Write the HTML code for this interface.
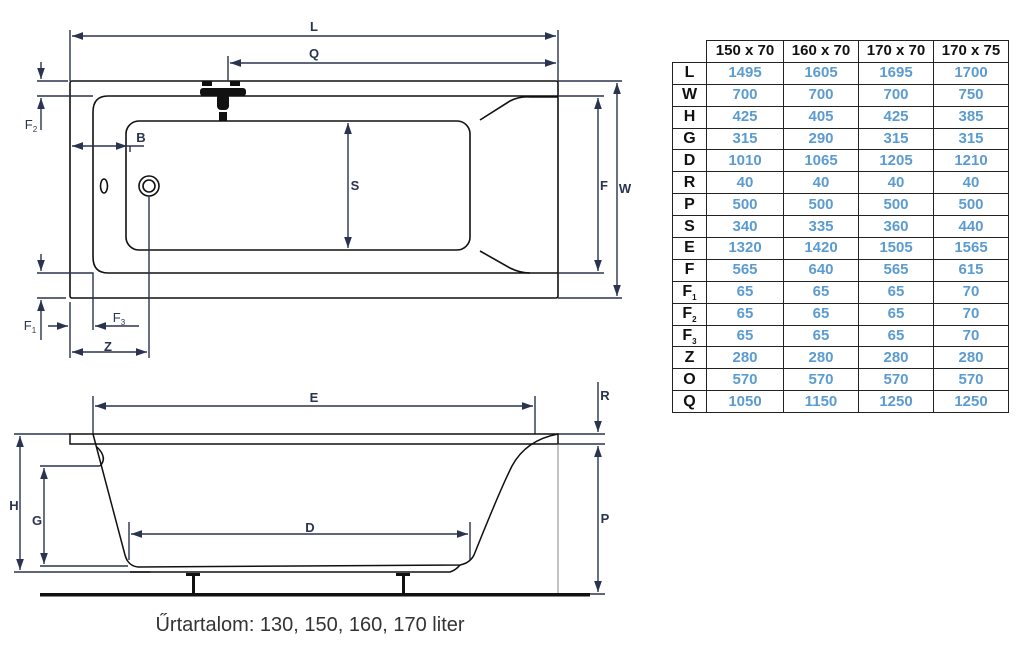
<!DOCTYPE html>
<html><head><meta charset="utf-8"><style>
body{margin:0;background:#fff;width:1024px;height:647px;overflow:hidden;font-family:"Liberation Sans",sans-serif}
svg{position:absolute;left:0;top:0}
table{position:absolute;left:672px;top:40px;border-collapse:collapse;table-layout:fixed;font-family:"Liberation Sans",sans-serif;font-weight:bold}
td{border:1.5px solid #222;height:20.4px;padding:0;text-align:center;font-size:15px;color:#5b9bd0;line-height:18px;overflow:hidden}
tr{height:21.9px}
td.h{color:#111;font-size:15px}
td.k{color:#111;width:33px;font-size:16px}
.s{font-size:8px;position:relative;top:4px;line-height:0}
</style></head><body>
<svg width="1024" height="647" viewBox="0 0 1024 647">
<defs>
<marker id="a" viewBox="0 0 10 10" refX="10" refY="5" markerWidth="8" markerHeight="8" orient="auto-start-reverse"><path d="M0,1.5 L10,5 L0,8.5z" fill="#2a3350"/></marker>
</defs>
<g fill="none" stroke="#111" stroke-width="1.6">
<rect x="70" y="81" width="488" height="217" rx="2"/>
<path d="M558,96 H108 Q93,96 93,112 V257 Q93,273 108,273 H558"/>
<rect x="126" y="121" width="344" height="129" rx="13"/>
<path d="M480,120 L510,101 Q520,96 530,97 H558 M480,251 L510,268 Q520,273 530,273"/>
<ellipse cx="104" cy="186" rx="3.5" ry="7"/>
<circle cx="149" cy="186" r="10"/><circle cx="149" cy="186" r="6"/>
</g>
<g fill="#111"><rect x="202" y="81" width="10" height="5"/><rect x="230" y="81" width="10" height="5"/><rect x="200" y="88" width="46" height="8" rx="3"/><rect x="217" y="94" width="12" height="16" rx="4"/><rect x="219" y="112" width="8" height="9"/></g>
<g stroke="#2a3350" stroke-width="1.4" fill="none">
<path d="M70,30 V81 M558,30 V81 M228,56 V81"/>
<line x1="72" y1="36" x2="556" y2="36" marker-start="url(#a)" marker-end="url(#a)"/>
<line x1="230" y1="63" x2="556" y2="63" marker-start="url(#a)" marker-end="url(#a)"/>
<path d="M558,81 H622 M558,96 H604 M558,273 H604 M558,298 H622"/>
<line x1="598" y1="98" x2="598" y2="271" marker-start="url(#a)" marker-end="url(#a)"/>
<line x1="617" y1="83" x2="617" y2="296" marker-start="url(#a)" marker-end="url(#a)"/>
<path d="M37,81 H68 M37,96 H93"/>
<line x1="41" y1="62" x2="41" y2="79" marker-end="url(#a)"/>
<line x1="41" y1="130" x2="41" y2="98" marker-end="url(#a)"/>
<line x1="72" y1="146" x2="127" y2="146" marker-start="url(#a)" marker-end="url(#a)"/>
<path d="M127,146 H144 M130,146 V152"/>
<line x1="348" y1="123" x2="348" y2="248" marker-start="url(#a)" marker-end="url(#a)"/>
<path d="M37,273 H93 V330 M37,298 H66 M70,302 V358 M149,196 V358"/>
<line x1="41" y1="254" x2="41" y2="271" marker-end="url(#a)"/>
<line x1="41" y1="340" x2="41" y2="300" marker-end="url(#a)"/>
<line x1="48" y1="326" x2="68" y2="326" marker-end="url(#a)"/>
<line x1="139" y1="326" x2="95" y2="326" marker-end="url(#a)"/>
<line x1="72" y1="352" x2="147" y2="352" marker-start="url(#a)" marker-end="url(#a)"/>
<path d="M93,396 V434 M535,396 V434"/>
<line x1="95" y1="406" x2="533" y2="406" marker-start="url(#a)" marker-end="url(#a)"/>
<path d="M14,434 H70 M14,572 H150 M40,466 H100"/>
<line x1="20" y1="436" x2="20" y2="570" marker-start="url(#a)" marker-end="url(#a)"/>
<line x1="44" y1="468" x2="44" y2="564" marker-start="url(#a)" marker-end="url(#a)"/>
<line x1="40" y1="566" x2="128" y2="566"/>
<path d="M129,522 V560 M470,522 V560"/>
<line x1="131" y1="534" x2="468" y2="534" marker-start="url(#a)" marker-end="url(#a)"/>
<path d="M558,434 H605 M558,444 H605 M590,594 H605"/>
<line x1="598" y1="382" x2="598" y2="432" marker-end="url(#a)"/>
<line x1="598" y1="446" x2="598" y2="592" marker-start="url(#a)" marker-end="url(#a)"/>
</g>
<g fill="none" stroke="#111" stroke-width="1.5">
<path d="M70,434 H558 V444 H70 Z"/>
<path d="M93,434 L125,555 Q128,566 138,567 L460,565 Q470,563 474,555 Q500,490 512,466 Q526,440 558,434"/>
<path d="M97,447 Q108,458 100,466"/>
<path d="M130,572 H450 Q456,570 460,565"/>
<line x1="558" y1="444" x2="558" y2="594" stroke="#888" stroke-width="1"/>
</g>
<g fill="#111"><rect x="186" y="573" width="14" height="3"/><rect x="192" y="576" width="3" height="18"/><rect x="396" y="573" width="14" height="3"/><rect x="402" y="576" width="3" height="18"/></g>
<rect x="40" y="593" width="550" height="3.5" fill="#111"/>
<g font-family="Liberation Sans,sans-serif" font-weight="bold" font-size="13" fill="#2a3350" text-anchor="middle">
<text x="314" y="31">L</text><text x="314" y="58">Q</text><text x="604" y="190">F</text><text x="625" y="193">W</text>
<text x="355" y="190">S</text><text x="141" y="142">B</text><text x="314" y="402">E</text><text x="310" y="532">D</text>
<text x="605" y="400">R</text><text x="605" y="523">P</text><text x="14" y="510">H</text><text x="37" y="525">G</text>
<text x="108" y="351">Z</text>
<text x="31" y="129" font-weight="normal">F<tspan font-size="8" dy="3">2</tspan></text>
<text x="30" y="330" font-weight="normal">F<tspan font-size="8" dy="3">1</tspan></text>
<text x="119" y="322" font-weight="normal">F<tspan font-size="8" dy="3">3</tspan></text>
</g>
<text x="310" y="631" font-family="Liberation Sans,sans-serif" font-size="20" fill="#333" text-anchor="middle">Űrtartalom: 130, 150, 160, 170 liter</text>
</svg>
<table>
<tr><td style="border:none;border-right:1.5px solid #222;border-bottom:1.5px solid #222;width:33px"></td><td class="h" style="width:76px">150 x 70</td><td class="h" style="width:74px">160 x 70</td><td class="h" style="width:74px">170 x 70</td><td class="h" style="width:74px">170 x 75</td></tr>
<tr><td class="k">L</td><td>1495</td><td>1605</td><td>1695</td><td>1700</td></tr>
<tr><td class="k">W</td><td>700</td><td>700</td><td>700</td><td>750</td></tr>
<tr><td class="k">H</td><td>425</td><td>405</td><td>425</td><td>385</td></tr>
<tr><td class="k">G</td><td>315</td><td>290</td><td>315</td><td>315</td></tr>
<tr><td class="k">D</td><td>1010</td><td>1065</td><td>1205</td><td>1210</td></tr>
<tr><td class="k">R</td><td>40</td><td>40</td><td>40</td><td>40</td></tr>
<tr><td class="k">P</td><td>500</td><td>500</td><td>500</td><td>500</td></tr>
<tr><td class="k">S</td><td>340</td><td>335</td><td>360</td><td>440</td></tr>
<tr><td class="k">E</td><td>1320</td><td>1420</td><td>1505</td><td>1565</td></tr>
<tr><td class="k">F</td><td>565</td><td>640</td><td>565</td><td>615</td></tr>
<tr><td class="k">F<span class="s">1</span></td><td>65</td><td>65</td><td>65</td><td>70</td></tr>
<tr><td class="k">F<span class="s">2</span></td><td>65</td><td>65</td><td>65</td><td>70</td></tr>
<tr><td class="k">F<span class="s">3</span></td><td>65</td><td>65</td><td>65</td><td>70</td></tr>
<tr><td class="k">Z</td><td>280</td><td>280</td><td>280</td><td>280</td></tr>
<tr><td class="k">O</td><td>570</td><td>570</td><td>570</td><td>570</td></tr>
<tr><td class="k">Q</td><td>1050</td><td>1150</td><td>1250</td><td>1250</td></tr>
</table>
</body></html>
